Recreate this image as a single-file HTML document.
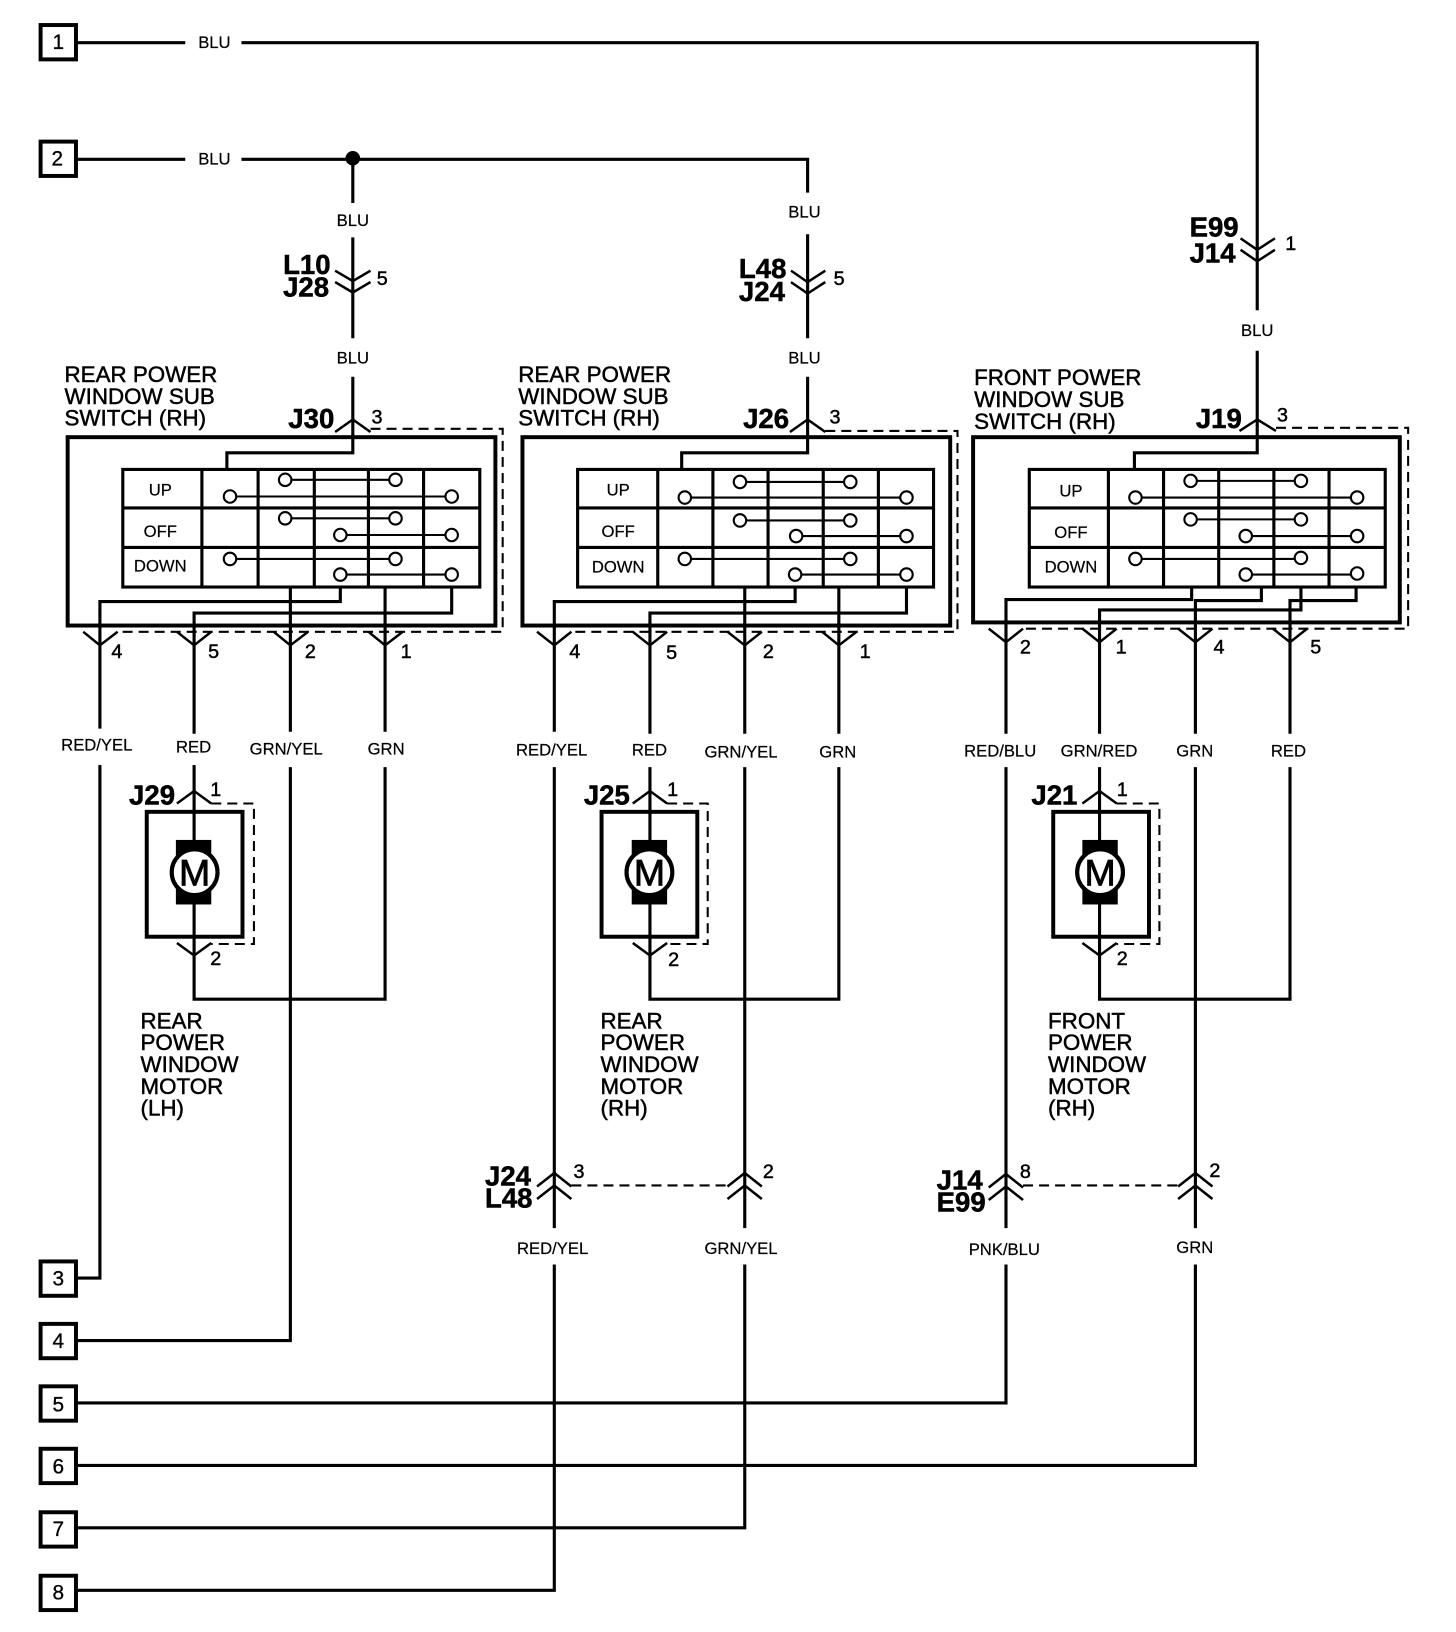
<!DOCTYPE html>
<html><head><meta charset="utf-8"><style>
html,body{margin:0;padding:0;background:#fff}
svg{display:block}
text{font-family:"Liberation Sans",sans-serif;fill:#000}
.w{fill:none;stroke:#000;stroke-width:3}
.t{fill:none;stroke:#000;stroke-width:2.4}
.f{fill:none;stroke:#000;stroke-width:3.8}
.d{fill:none;stroke:#000;stroke-width:2;stroke-dasharray:9.6 5.8}
.c{fill:#fff;stroke:#000;stroke-width:2}
.l{font-size:16px;text-anchor:middle;stroke:#000;stroke-width:.2}
.h{font-size:21.5px;stroke:#000;stroke-width:.45}
.j{font-size:26.5px;font-weight:bold;stroke:#000;stroke-width:.5}
.n{font-size:19px;stroke:#000;stroke-width:.45;transform:translateX(1px)}
.b{font-size:20px;text-anchor:middle;stroke:#000;stroke-width:.3}
.r{font-size:16px;text-anchor:middle;stroke:#000;stroke-width:.2}
.m{font-size:36px;text-anchor:middle;stroke:#000;stroke-width:.8}
</style></head><body>
<svg width="1456" height="1632" viewBox="0 0 1399 1568" xmlns="http://www.w3.org/2000/svg">
<rect width="1399" height="1568" fill="#fff"/>

<!-- terminal boxes -->
<g class="f" style="stroke-width:3.5">
<rect x="39" y="24" width="34" height="33" class="f"/><rect x="39" y="136" width="34" height="33" class="f"/>
<rect x="39" y="1212" width="34" height="33" class="f"/><rect x="39" y="1272" width="34" height="33" class="f"/>
<rect x="39" y="1332" width="34" height="33" class="f"/><rect x="39" y="1392" width="34" height="33" class="f"/>
<rect x="39" y="1453" width="34" height="33" class="f"/><rect x="39" y="1514" width="34" height="33" class="f"/>
</g>
<text class="b" x="56" y="47">1</text><text class="b" x="55" y="159">2</text><text class="b" x="56" y="1235">3</text><text class="b" x="56" y="1295">4</text><text class="b" x="56" y="1356">5</text><text class="b" x="56" y="1416">6</text><text class="b" x="56" y="1476">7</text><text class="b" x="56" y="1537">8</text>

<!-- main wires -->
<path class="w" d="M73 41H178M232 41H1208V298M1208 337V435H1090V451"/>
<path class="w" d="M73 153H178M232 153H776V185M776 225V325M776 362V435H655V451"/>
<path class="w" d="M339 153V195M339 228V325M339 362V435H218V451"/>
<circle cx="339" cy="152" r="7"/>

<path class="w" d="M327 564V578H96V700M96 735V1228H73"/>
<path class="w" d="M434 564V589H186.500V705M186.500 735V960H370V737M370 703V564"/>
<path class="w" d="M279 564V703M279 737V1288H73"/>

<path class="w" d="M764 564V578H532.600V703M532.600 737V1180M532.600 1215V1528H73"/>
<path class="w" d="M871 564V589H624.500V705M624.500 737V960H806V737M806 705V564"/>
<path class="w" d="M715.600 564V705M715.600 737V1180M715.600 1215V1468H73"/>

<path class="w" d="M1145 564V576H966.600V705M966.600 737V1180M966.600 1215V1348H73"/>
<path class="w" d="M1212 564V577H1148.600V705M1148.600 737V1180M1148.600 1215V1408H73"/>
<path class="w" d="M1250 564V586H1056.500V705M1056.500 737V960H1239.500V737M1239.500 705V577H1303V564"/>

<!-- wire labels -->
<text class="l" x="206" y="46">BLU</text><text class="l" x="206" y="158">BLU</text>
<text class="l" x="339" y="217">BLU</text><text class="l" x="339" y="349">BLU</text>
<text class="l" x="773" y="209">BLU</text><text class="l" x="773" y="349">BLU</text>
<text class="l" x="1208" y="323">BLU</text>
<text class="l" x="93" y="721">RED/YEL</text><text class="l" x="186" y="723">RED</text><text class="l" x="275" y="725">GRN/YEL</text><text class="l" x="371" y="725">GRN</text>
<text class="l" x="530" y="726">RED/YEL</text><text class="l" x="624" y="726">RED</text><text class="l" x="712" y="728">GRN/YEL</text><text class="l" x="805" y="728">GRN</text>
<text class="l" x="961" y="727">RED/BLU</text><text class="l" x="1056" y="727">GRN/RED</text><text class="l" x="1148" y="727">GRN</text><text class="l" x="1238" y="727">RED</text>
<text class="l" x="531" y="1205">RED/YEL</text><text class="l" x="712" y="1205">GRN/YEL</text><text class="l" x="965" y="1206">PNK/BLU</text><text class="l" x="1148" y="1204">GRN</text>

<!-- inline connectors -->
<path class="t" d="M322 260L339 270L356 260M322 271L339 281L356 271"/>
<path class="t" d="M760 260L776 271L793 260M760 271L776 282L793 271"/>
<path class="t" d="M1192 229L1208 240L1225 229M1192 240L1208 251L1225 240"/>
<path class="t" d="M516 1140L532.600 1127L549 1140M516 1152L532.600 1139L549 1152"/>
<path class="t" d="M699 1140L715.600 1127L732 1140M699 1152L715.600 1139L732 1152"/>
<path class="t" d="M950 1141L966.600 1128L983 1141M950 1153L966.600 1140L983 1153"/>
<path class="t" d="M1132 1140L1148.600 1127L1165 1140M1132 1152L1148.600 1139L1165 1152"/>
<path class="d" d="M549 1139H699M983 1139H1132"/>

<text class="j" x="272" y="263">L10</text><text class="j" x="272" y="285">J28</text><text class="n" x="361" y="274">5</text>
<text class="j" x="710" y="267">L48</text><text class="j" x="710" y="289">J24</text><text class="n" x="800" y="274">5</text>
<text class="j" x="1143" y="227">E99</text><text class="j" x="1143" y="252">J14</text><text class="n" x="1234" y="240">1</text>
<text class="j" x="466" y="1139">J24</text><text class="j" x="466" y="1160">L48</text><text class="n" x="550" y="1132">3</text><text class="n" x="732" y="1132">2</text>
<text class="j" x="900" y="1143">J14</text><text class="j" x="900" y="1164">E99</text><text class="n" x="979" y="1132">8</text><text class="n" x="1161" y="1131">2</text>

<!-- switch 1 -->
<text class="h" x="62" y="367">REAR POWER</text><text class="h" x="62" y="388">WINDOW SUB</text><text class="h" x="62" y="409">SWITCH (RH)</text>
<text class="j" x="277" y="411">J30</text><text class="n" x="356" y="407">3</text>
<rect class="f" x="65" y="420" width="411" height="181"/>
<path class="t" d="M322 415L339 403L356 415M80 607L96 620L113 607M170 607L186.500 620L203 607M263 607L279 620L296 607M354 607L370 620L387 607"/>
<path class="d" d="M356 412H483V607H113"/>
<rect class="w" x="118" y="451" width="343" height="113"/>
<path class="w" d="M118 488H461M118 526H461M194 451V564M248 451V564M302 451V564M354 451V564M407 451V564"/>
<path class="t" style="stroke-width:2" d="M274 461H380M221 477H434M274 498H380M327 514H434M221 537H380M327 552H434"/>
<g class="c"><circle cx="274" cy="461" r="6"/><circle cx="380" cy="461" r="6"/><circle cx="221" cy="477" r="6"/><circle cx="434" cy="477" r="6"/><circle cx="274" cy="498" r="6"/><circle cx="380" cy="498" r="6"/><circle cx="327" cy="514" r="6"/><circle cx="434" cy="514" r="6"/><circle cx="221" cy="537" r="6"/><circle cx="380" cy="537" r="6"/><circle cx="327" cy="552" r="6"/><circle cx="434" cy="552" r="6"/></g>
<text class="r" x="154" y="476">UP</text><text class="r" x="154" y="516">OFF</text><text class="r" x="154" y="549">DOWN</text>
<text class="n" x="106" y="632">4</text><text class="n" x="199" y="632">5</text><text class="n" x="292" y="632">2</text><text class="n" x="384" y="632">1</text>

<!-- switch 2 -->
<text class="h" x="498" y="367">REAR POWER</text><text class="h" x="498" y="388">WINDOW SUB</text><text class="h" x="498" y="409">SWITCH (RH)</text>
<text class="j" x="714" y="411">J26</text><text class="n" x="796" y="407">3</text>
<rect class="f" x="502" y="420" width="411" height="181"/>
<path class="t" d="M759 415L776 403L793 415M516 607L532.600 620L549 607M608 607L624.500 620L641 607M699 607L715.600 620L732 607M790 607L806 620L823 607"/>
<path class="d" d="M793 414H920V607H549"/>
<rect class="w" x="555" y="451" width="342" height="113"/>
<path class="w" d="M555 488H897M555 526H897M632 451V564M685 451V564M738 451V564M791 451V564M844 451V564"/>
<path class="t" style="stroke-width:2" d="M711 463H817M658 478H871M711 500H817M765 515H871M658 537H817M764 552H871"/>
<g class="c"><circle cx="711" cy="463" r="6"/><circle cx="817" cy="463" r="6"/><circle cx="658" cy="478" r="6"/><circle cx="871" cy="478" r="6"/><circle cx="711" cy="500" r="6"/><circle cx="817" cy="500" r="6"/><circle cx="765" cy="515" r="6"/><circle cx="871" cy="515" r="6"/><circle cx="658" cy="537" r="6"/><circle cx="817" cy="537" r="6"/><circle cx="764" cy="552" r="6"/><circle cx="871" cy="552" r="6"/></g>
<text class="r" x="594" y="476">UP</text><text class="r" x="594" y="516">OFF</text><text class="r" x="594" y="550">DOWN</text>
<text class="n" x="546" y="632">4</text><text class="n" x="639" y="633">5</text><text class="n" x="732" y="632">2</text><text class="n" x="825" y="632">1</text>

<!-- switch 3 -->
<text class="h" x="936" y="370">FRONT POWER</text><text class="h" x="936" y="391">WINDOW SUB</text><text class="h" x="936" y="412">SWITCH (RH)</text>
<text class="j" x="1149" y="411">J19</text><text class="n" x="1226" y="405">3</text>
<rect class="f" x="935" y="420" width="410" height="178"/>
<path class="t" d="M1191 414L1208 403L1226 414M950 604L966.600 617L983 604M1040 604L1056.500 617L1073 604M1132 604L1148.600 617L1165 604M1223 604L1239.500 617L1256 604"/>
<path class="d" d="M1226 411H1353V604H983"/>
<rect class="w" x="989" y="451" width="342" height="113"/>
<path class="w" d="M989 488H1331M989 526H1331M1065 451V564M1118 451V564M1171 451V564M1224 451V564M1277 451V564"/>
<path class="t" style="stroke-width:2" d="M1144 462H1250M1091 478H1304M1144 499H1250M1197 515H1304M1091 537H1250M1197 552H1304"/>
<g class="c"><circle cx="1144" cy="462" r="6"/><circle cx="1250" cy="462" r="6"/><circle cx="1091" cy="478" r="6"/><circle cx="1304" cy="478" r="6"/><circle cx="1144" cy="499" r="6"/><circle cx="1250" cy="499" r="6"/><circle cx="1197" cy="515" r="6"/><circle cx="1304" cy="515" r="6"/><circle cx="1091" cy="537" r="6"/><circle cx="1250" cy="536" r="6"/><circle cx="1197" cy="552" r="6"/><circle cx="1304" cy="551" r="6"/></g>
<text class="r" x="1029" y="477">UP</text><text class="r" x="1029" y="517">OFF</text><text class="r" x="1029" y="550">DOWN</text>
<text class="n" x="979" y="628">2</text><text class="n" x="1071" y="628">1</text><text class="n" x="1165" y="628">4</text><text class="n" x="1258" y="628">5</text>

<!-- motor 1 -->
<text class="j" x="124" y="773">J29</text><text class="n" x="201" y="765">1</text><text class="n" x="201" y="927">2</text>
<rect class="f" x="141" y="780" width="92" height="120"/>
<path class="t" d="M170 772L186.500 760L203 772M170 906L186.500 918L203 906"/>
<path class="d" d="M203 772H244V907H203"/>
<rect x="169" y="807" width="34" height="62"/>
<circle class="c" style="stroke-width:4" cx="187" cy="838" r="22"/>
<text class="m" x="187" y="851">M</text>
<text class="h" x="135" y="988">REAR</text><text class="h" x="135" y="1009">POWER</text><text class="h" x="135" y="1030">WINDOW</text><text class="h" x="135" y="1051">MOTOR</text><text class="h" x="135" y="1072">(LH)</text>

<!-- motor 2 -->
<text class="j" x="561" y="773">J25</text><text class="n" x="640" y="765">1</text><text class="n" x="641" y="928">2</text>
<rect class="f" x="578" y="780" width="92" height="120"/>
<path class="t" d="M608 772L624.500 760L641 772M608 906L624.500 918L641 906"/>
<path class="d" d="M641 772H680V907H641"/>
<rect x="607" y="807" width="34" height="62"/>
<circle class="c" style="stroke-width:4" cx="624" cy="838" r="22"/>
<text class="m" x="624" y="851">M</text>
<text class="h" x="577" y="988">REAR</text><text class="h" x="577" y="1009">POWER</text><text class="h" x="577" y="1030">WINDOW</text><text class="h" x="577" y="1051">MOTOR</text><text class="h" x="577" y="1072">(RH)</text>

<!-- motor 3 -->
<text class="j" x="991" y="773">J21</text><text class="n" x="1072" y="765">1</text><text class="n" x="1072" y="927">2</text>
<rect class="f" x="1012" y="780" width="92" height="120"/>
<path class="t" d="M1040 772L1056.500 760L1073 772M1040 906L1056.500 918L1073 906"/>
<path class="d" d="M1073 772H1114V907H1073"/>
<rect x="1040" y="807" width="34" height="62"/>
<circle class="c" style="stroke-width:4" cx="1057" cy="838" r="22"/>
<text class="m" x="1057" y="851">M</text>
<text class="h" x="1007" y="988">FRONT</text><text class="h" x="1007" y="1009">POWER</text><text class="h" x="1007" y="1030">WINDOW</text><text class="h" x="1007" y="1051">MOTOR</text><text class="h" x="1007" y="1072">(RH)</text>
</svg>
</body></html>
